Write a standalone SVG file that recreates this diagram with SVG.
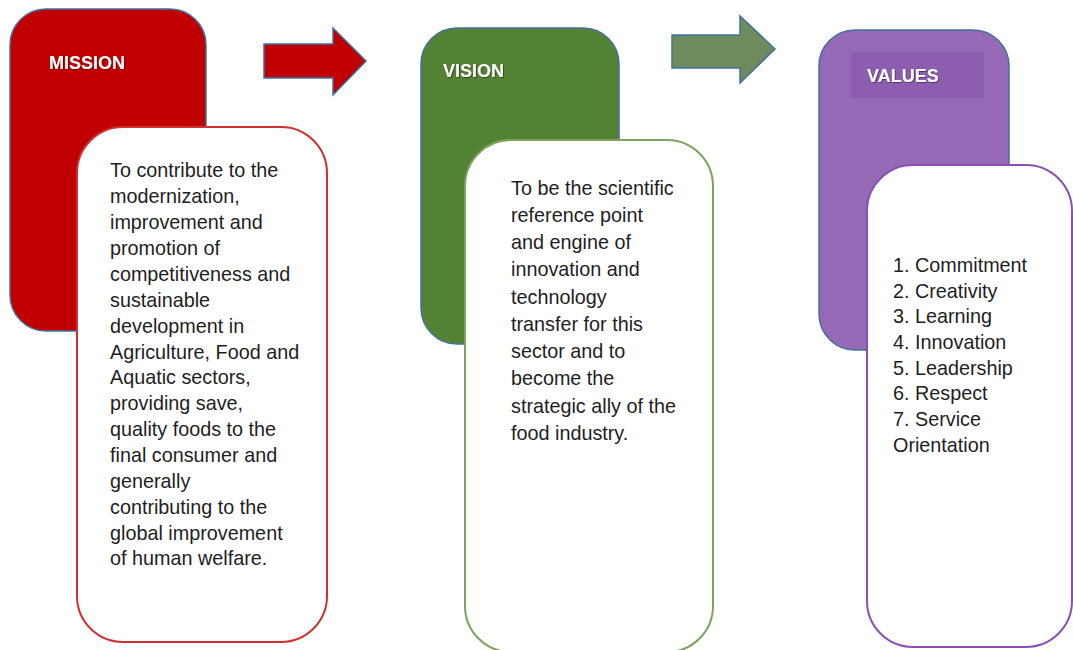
<svg xmlns="http://www.w3.org/2000/svg" width="1073" height="650" viewBox="0 0 1073 650">
<defs>
<style>
.back{stroke:#41719c;stroke-width:1.5}
.front{fill:#ffffff;stroke-width:2}
.title{font-family:"Liberation Sans",Arial,sans-serif;font-weight:bold;font-size:18px;fill:#ffffff;filter:url(#sh)}
.body{font-family:"Liberation Sans",Arial,sans-serif;font-size:19.8px;fill:#1e1e1e}
.arrow{stroke:#41719c;stroke-width:1.5}
</style>
<filter id="sh" x="-10%" y="-30%" width="130%" height="160%">
<feDropShadow dx="0.8" dy="0.8" stdDeviation="0.6" flood-color="#000000" flood-opacity="0.55"/>
</filter>
</defs>
<rect width="1073" height="650" fill="#ffffff"/>
<g id="connectors">
<path class="arrow" fill="#c00000" d="M264,44 H333 V28 L366,61 L333,95 V78 H264 Z"/>
<path class="arrow" fill="#6e8b5f" d="M672,35 H740 V16 L775,49 L740,83 V68 H672 Z"/>
</g>
<g id="mission">
<rect class="back" x="10" y="9" width="196" height="322" rx="36" fill="#c00000"/>
<text class="title" x="49" y="69">MISSION</text>
<rect class="front" x="77" y="127" width="250" height="515" rx="46" stroke="#d0302f"/>
<text class="body">
<tspan x="110" y="177">To contribute to the</tspan>
<tspan x="110" y="203">modernization,</tspan>
<tspan x="110" y="229">improvement and</tspan>
<tspan x="110" y="255">promotion of</tspan>
<tspan x="110" y="281">competitiveness and</tspan>
<tspan x="110" y="307">sustainable</tspan>
<tspan x="110" y="333">development in</tspan>
<tspan x="110" y="359">Agriculture, Food and</tspan>
<tspan x="110" y="384">Aquatic sectors,</tspan>
<tspan x="110" y="410">providing save,</tspan>
<tspan x="110" y="436">quality foods to the</tspan>
<tspan x="110" y="462">final consumer and</tspan>
<tspan x="110" y="488">generally</tspan>
<tspan x="110" y="514">contributing to the</tspan>
<tspan x="110" y="540">global improvement</tspan>
<tspan x="110" y="565">of human welfare.</tspan>
</text>
</g>
<g id="vision">
<rect class="back" x="421" y="28" width="198" height="316" rx="36" fill="#548235"/>
<text class="title" x="443" y="77">VISION</text>
<rect class="front" x="465" y="140" width="248" height="512" rx="46" stroke="#7ea35c"/>
<text class="body">
<tspan x="511" y="195">To be the scientific</tspan>
<tspan x="511" y="222">reference point</tspan>
<tspan x="511" y="249">and engine of</tspan>
<tspan x="511" y="276">innovation and</tspan>
<tspan x="511" y="304">technology</tspan>
<tspan x="511" y="331">transfer for this</tspan>
<tspan x="511" y="358">sector and to</tspan>
<tspan x="511" y="385">become the</tspan>
<tspan x="511" y="413">strategic ally of the</tspan>
<tspan x="511" y="440">food industry.</tspan>
</text>
</g>
<g id="values">
<rect class="back" x="819" y="30" width="190" height="320" rx="36" fill="#9569b6"/>
<rect x="851" y="52" width="133" height="46" fill="#8d5db0"/>
<text class="title" x="867" y="82">VALUES</text>
<rect class="front" x="867" y="165" width="205" height="482" rx="46" stroke="#8a4fb3"/>
<text class="body">
<tspan x="893" y="272">1. Commitment</tspan>
<tspan x="893" y="298">2. Creativity</tspan>
<tspan x="893" y="323">3. Learning</tspan>
<tspan x="893" y="349">4. Innovation</tspan>
<tspan x="893" y="375">5. Leadership</tspan>
<tspan x="893" y="400">6. Respect</tspan>
<tspan x="893" y="426">7. Service</tspan>
<tspan x="893" y="452">Orientation</tspan>
</text>
</g>
</svg>
